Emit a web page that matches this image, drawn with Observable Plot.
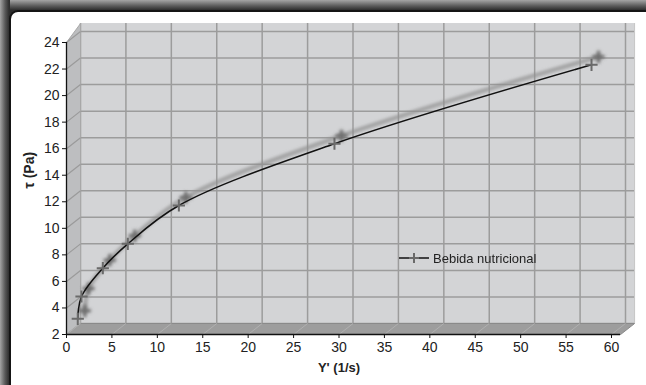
<!DOCTYPE html>
<html>
<head>
<meta charset="utf-8">
<script src="https://cdn.jsdelivr.net/npm/d3@7"></script>
<script src="https://cdn.jsdelivr.net/npm/@observablehq/plot@0.6"></script>
<style>
html, body { margin: 0; padding: 0; width: 646px; height: 385px; overflow: hidden; }
body { position: relative; background: linear-gradient(180deg, #a5a5a5 0px, #5a5a5a 6px, #2e2e2e 10px); font-family: "Liberation Sans", Arial, sans-serif; }
#leftband { position: absolute; left: 0; top: 0; width: 10px; height: 385px; background: linear-gradient(90deg, #a5a5a5 0px, #5a5a5a 5px, #2e2e2e 9px); }
#panel { position: absolute; left: 9px; top: 10px; width: 660px; height: 400px; background: #fff; border-top: 2px solid #151515; border-left: 2px solid #151515; border-top-left-radius: 9px; box-sizing: border-box; }
#chart { position: absolute; left: 0; top: 0; }
#legend { position: absolute; left: 398px; top: 250px; display: flex; align-items: center; font-size: 13px; color: #222; white-space: nowrap; }
#legend svg { display: block; margin-right: 3px; }
</style>
</head>
<body>
<div id="leftband"></div>
<div id="panel"></div>
<div id="chart"></div>
<div id="legend"></div>
<script>
// ---- data ----
const seriesName = "Bebida nutricional";
const shearRate = [1.24, 1.65, 4.0, 6.75, 12.37, 29.5, 57.8];
const shearStress = [3.18, 4.86, 7.0, 8.83, 11.72, 16.37, 22.32];
const xTicks = [0, 5, 10, 15, 20, 25, 30, 35, 40, 45, 50, 55, 60];
const yTicks = [2, 4, 6, 8, 10, 12, 14, 16, 18, 20, 22, 24];
const xTitle = "Y' (1/s)";
const yTitle = "τ (Pa)";

const data = shearRate.map((x, i) => ({x, y: shearStress[i]}));

// ---- 3D box geometry (in data units) ----
const X0 = 0, X1 = 61, Y0 = 2, YF = 24, YB = 24.6;
const W = 646, H = 385, mL = 66, mR = 35, mT = 42, mB = 51;
const kx = (W - mL - mR) / 60, ky = (H - mT - mB) / 22;
const DX = 14, DY = -11;
const ddx = DX / kx, ddy = -DY / ky;

const floor = [
  {x: X0, y: Y0}, {x: X1, y: Y0}, {x: X1 + ddx, y: Y0 + ddy}, {x: X0 + ddx, y: Y0 + ddy}
];
const side = [
  {x: X0, y: Y0}, {x: X0, y: YF}, {x: X0 + ddx, y: YB + ddy}, {x: X0 + ddx, y: Y0 + ddy}
];

const font = `"Liberation Sans", Arial, sans-serif`;
const blurred = (index, scales, values, dims, context, next) => {
  const g = next(index, scales, values, dims, context);
  g.setAttribute("filter", "url(#sblur)");
  return g;
};

const chart = Plot.plot({
  width: W, height: H,
  marginLeft: mL, marginRight: mR, marginTop: mT, marginBottom: mB,
  style: {background: "transparent", fontFamily: font, fontSize: "14px", color: "#222", overflow: "visible"},
  x: {domain: [0, 60]},
  y: {domain: [2, 24]},
  marks: [
    // back wall
    Plot.rect([0], {x1: X0, x2: X1, y1: Y0, y2: YB, dx: DX, dy: DY, fill: "#d3d4d6"}),
    Plot.ruleX(xTicks, {y1: Y0, y2: YB, dx: DX, dy: DY, stroke: "#9c9c9c", strokeWidth: 1.5}),
    Plot.ruleY(yTicks, {x1: X0, x2: X1, dx: DX, dy: DY, stroke: "#9c9c9c", strokeWidth: 1.5}),
    Plot.ruleX([X1], {y1: Y0, y2: YB, dx: DX, dy: DY, stroke: "#c4c4c4", strokeWidth: 1}),
    // side wall
    Plot.line(side, {x: "x", y: "y", fill: "#bdbec0", stroke: "#a8a8a8", strokeWidth: 1}),
    Plot.link(yTicks, {x1: X0, y1: d => d, x2: X0 + ddx, y2: d => d + ddy, stroke: "#9a9a9a", strokeWidth: 1.2}),
    // floor
    Plot.line(floor, {x: "x", y: "y", fill: "#9d9d9d", stroke: "#8a8a8a", strokeWidth: 1}),
    Plot.link(xTicks, {x1: d => d, y1: Y0, x2: d => d + ddx, y2: Y0 + ddy, stroke: "#b0b0b0", strokeWidth: 1}),
    // front axes
    Plot.ruleX([X0], {y1: Y0, y2: YF, stroke: "#111", strokeWidth: 1.3}),
    Plot.ruleY([Y0], {x1: X0, x2: X1, stroke: "#111", strokeWidth: 1.5}),
    Plot.axisX({ticks: xTicks, tickSize: 4, tickPadding: 4, label: null, fontSize: 14, stroke: "#111"}),
    Plot.axisY({ticks: yTicks, tickSize: 4, tickPadding: 3, label: null, fontSize: 14, stroke: "#111"}),
    Plot.text([xTitle], {frameAnchor: "bottom", dy: 37, fontWeight: "bold", fontSize: 13, fill: "#222"}),
    Plot.text([yTitle], {frameAnchor: "left", dx: -37, rotate: -90, fontWeight: "bold", fontSize: 14, fill: "#222"}),
    // shadow of the series
    Plot.line(data, {x: "x", y: "y", dx: 7, dy: -8, curve: "catmull-rom", stroke: "#8e8e8e", strokeWidth: 4.5, strokeOpacity: 0.7, render: blurred}),
    Plot.dot(data, {x: "x", y: "y", dx: 7, dy: -8, symbol: "plus", r: 4, stroke: "#6e6e6e", strokeWidth: 3.5, render: blurred}),
    // series
    Plot.line(data, {x: "x", y: "y", curve: "catmull-rom", stroke: "#111", strokeWidth: 1.5}),
    Plot.dot(data, {x: "x", y: "y", symbol: "plus", r: 4, stroke: "#6a6a6a", strokeWidth: 2})
  ]
});

// blur filter for the 3D shadow
d3.select(chart).insert("defs", ":first-child").html(`<filter id="sblur" x="-20%" y="-20%" width="140%" height="140%"><feGaussianBlur stdDeviation="1.5"/></filter>`);

document.getElementById("chart").appendChild(chart);

// legend
const leg = document.getElementById("legend");
leg.innerHTML = `<svg width="32" height="16"><line x1="1" y1="8" x2="31" y2="8" stroke="#111" stroke-width="1.5"/><line x1="16" y1="3" x2="16" y2="13" stroke="#6a6a6a" stroke-width="2"/><line x1="11" y1="8" x2="21" y2="8" stroke="#6a6a6a" stroke-width="2"/></svg><span></span>`;
leg.querySelector("span").textContent = seriesName;
</script>
</body>
</html>
